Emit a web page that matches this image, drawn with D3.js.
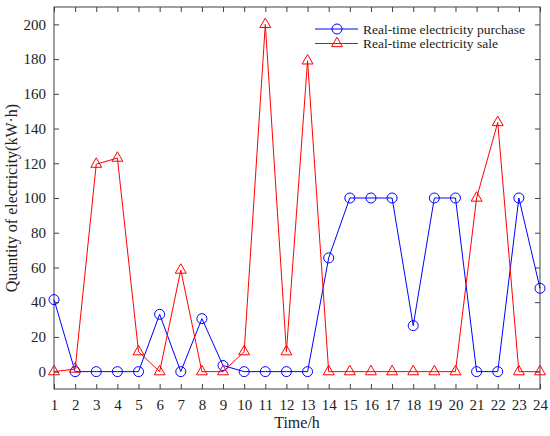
<!DOCTYPE html>
<html><head><meta charset="utf-8">
<script src="https://cdn.jsdelivr.net/npm/d3@7"></script>
<style>body{margin:0;background:#fff}svg{display:block}</style>
</head><body>
<svg id="c" width="550" height="436"></svg>
<script>
const hours = d3.range(1, 25);
const purchase = [41.5,0,0,0,0,33,0,30.5,3.5,0,0,0,0,65.5,100,100,100,26.5,100,100,0,0,100,48];
const sale = [0,1.5,119.5,123,11.5,0,58.5,0,0,11.5,200,11.5,179,0,0,0,0,0,0,0,100,143.5,0,0];
const yTicks = [0,20,40,60,80,100,120,140,160,180,200];
const seriesNames = ["Real-time electricity purchase","Real-time electricity sale"];

const svg = d3.select("#c");
const L=54, R=540, T=7, B=389;
const x = d3.scaleLinear().domain([1,24]).range([L,R]);
const y = d3.scaleLinear().domain([-10,210]).range([B,T]);
const font = "'Liberation Serif','Times New Roman',serif";
const axisCol = "#404040";

const g = svg.append("g");
g.append("rect").attr("x",L).attr("y",T).attr("width",R-L).attr("height",B-T)
 .attr("fill","none").attr("stroke",axisCol).attr("stroke-width",1);

const xb = g.append("g").attr("transform",`translate(0,${B})`)
  .call(d3.axisBottom(x).tickValues(hours).tickFormat(d3.format("d")).tickSizeInner(-5).tickSizeOuter(0).tickPadding(10));
const xt = g.append("g").attr("transform",`translate(0,${T})`)
  .call(d3.axisTop(x).tickValues(hours).tickFormat("").tickSizeInner(-5).tickSizeOuter(0));
const yl = g.append("g").attr("transform",`translate(${L},0)`)
  .call(d3.axisLeft(y).tickValues(yTicks).tickFormat(d3.format("d")).tickSizeInner(-5).tickSizeOuter(0).tickPadding(8));
const yr = g.append("g").attr("transform",`translate(${R},0)`)
  .call(d3.axisRight(y).tickValues(yTicks).tickFormat("").tickSizeInner(-5).tickSizeOuter(0));
[xb,xt,yl,yr].forEach(a=>{
  a.select(".domain").remove();
  a.selectAll("line").attr("stroke",axisCol);
  a.selectAll("text").attr("fill","#222").style("font-family",font).style("font-size","15px");
});

svg.append("text").attr("x",(L+R)/2).attr("y",428).attr("text-anchor","middle")
  .style("font-family",font).style("font-size","16px").attr("fill","#222").text("Time/h");
svg.append("text").attr("transform",`translate(17,${(T+B)/2}) rotate(-90)`).attr("text-anchor","middle")
  .style("font-family",font).style("font-size","16px").attr("fill","#222").text("Quantity of electricity(kW·h)");

const line = d3.line().x((d,i)=>x(hours[i])).y(d=>y(d));
const blue="#0000ff", red="#ff0000";
const tri = d3.symbol().type(d3.symbolTriangle).size(52);

svg.append("path").datum(purchase).attr("d",line).attr("fill","none").attr("stroke",blue).attr("stroke-width",1);
svg.append("path").datum(sale).attr("d",line).attr("fill","none").attr("stroke",red).attr("stroke-width",1);
svg.selectAll(".pc").data(purchase).enter().append("circle")
  .attr("cx",(d,i)=>x(hours[i])).attr("cy",d=>y(d)).attr("r",5)
  .attr("fill","none").attr("stroke",blue).attr("stroke-width",1);
svg.selectAll(".sc").data(sale).enter().append("path")
  .attr("d",tri).attr("transform",(d,i)=>`translate(${x(hours[i])},${y(d)})`)
  .attr("fill","none").attr("stroke",red).attr("stroke-width",1);

const lg = svg.append("g");
const rows = [29, 43.5];
[blue, red].forEach((c,i)=>{
  lg.append("line").attr("x1",315).attr("x2",358).attr("y1",rows[i]).attr("y2",rows[i]).attr("stroke",c);
  if(i===0) lg.append("circle").attr("cx",337).attr("cy",rows[i]).attr("r",5).attr("fill","none").attr("stroke",c);
  else lg.append("path").attr("d",tri).attr("transform",`translate(337,${rows[i]})`).attr("fill","none").attr("stroke",c);
  lg.append("text").attr("x",363).attr("y",rows[i]).attr("dy","0.35em")
    .style("font-family",font).style("font-size","13.5px").attr("fill","#222").text(seriesNames[i]);
});
</script>
</body></html>
